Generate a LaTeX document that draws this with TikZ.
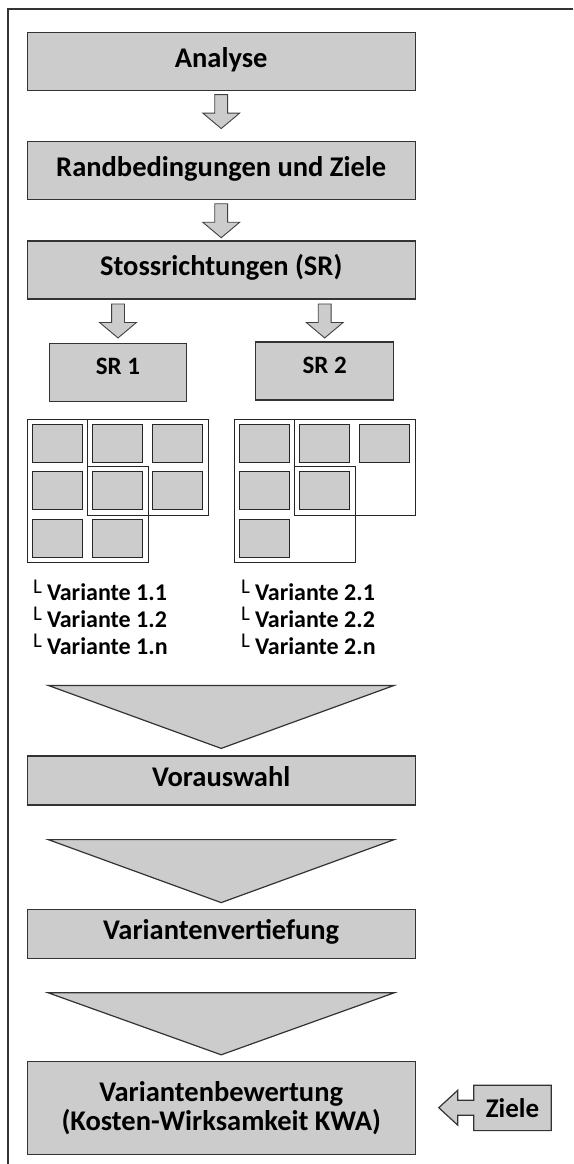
\documentclass[tikz,border=0pt]{standalone}
\usepackage{fontspec}
\setmainfont{Carlito}
\usetikzlibrary{positioning,shapes.arrows,backgrounds}

\tikzset{
  stage/.style={draw=black!80, fill=gray!40, line width=1.2pt, minimum width=388pt,
    minimum height=58pt, inner sep=0pt, align=center, text height=20pt, text depth=9pt,
    font=\bfseries\fontsize{28.5}{29}\selectfont},
  branch/.style={stage, minimum width=137pt, text height=16pt, text depth=12pt,
    font=\bfseries\fontsize{25}{25}\selectfont},
  blockarrow/.style={single arrow, draw=black!75, fill=gray!40, line width=0.9pt, rotate=-90,
    minimum height=34pt, inner xsep=0pt, inner ysep=6pt, single arrow head extend=12pt,
    single arrow tip angle=100, anchor=tail},
  cell/.style={draw=black!85, fill=gray!40, line width=1.3pt, minimum width=50pt,
    minimum height=38pt, inner sep=0pt},
  group/.style={draw=black!85, line width=0.8pt},
  funnel/.style={draw=black!80, fill=gray!40, line width=1.2pt},
  variant/.style={anchor=base west, inner sep=0pt, font=\bfseries\fontsize{24}{24}\selectfont}
}
\newcommand{\vmark}{\raisebox{7pt}{\mdseries\fontsize{21}{21}\selectfont L}\hspace{5pt}}

\begin{document}
\begin{tikzpicture}[x=1pt, y=-1pt]
   \useasboundingbox (0,0) rectangle (573,1164);
   \draw[line width=1.2pt, black!80] (8,1164) -- (8,9) -- (573,9);

   % main column
   \node[stage] (analyse) at (221.2,61.5) {Analyse};
   \node[stage, below=50pt of analyse] (rand) {Randbedingungen und Ziele};
   \node[stage, below=40pt of rand] (stoss) {Stossrichtungen (SR)};
   \node[branch] (sr1) at (118,372.5) {SR 1};
   \node[branch, minimum width=138pt] (sr2) at (324.7,371) {SR 2};
   \node[blockarrow] (ar1) at ([yshift=-3pt]analyse.south) {};
   \node[blockarrow] (ar2) at ([yshift=-3pt]rand.south) {};
   \node[blockarrow] (ar3) at ([yshift=-4pt]stoss.south -| sr1.north) {};
   \node[blockarrow] (ar4) at ([yshift=-4pt]stoss.south -| sr2.north) {};

   % variants SR 1
   \begin{scope}[node distance=47.5pt and 60pt, on grid]
   \node[cell] (a11) at (57.7,443.3) {};
   \node[cell] (a12) [right=of a11] {};
   \node[cell] (a13) [right=of a12] {};
   \node[cell] (a21) [below=of a11] {};
   \node[cell] (a22) [right=of a21] {};
   \node[cell] (a23) [right=of a22] {};
   \node[cell] (a31) [below=of a21] {};
   \node[cell] (a32) [right=of a31] {};
   % variants SR 2
   \node[cell] (b11) at (264.7,443.3) {};
   \node[cell] (b12) [right=of b11] {};
   \node[cell] (b13) [right=of b12] {};
   \node[cell] (b21) [below=of b11] {};
   \node[cell] (b22) [right=of b21] {};
   \node[cell] (b31) [below=of b21] {};
   \end{scope}
   \draw[group] ([shift={(-5,4.5)}]a31.south west) |- ([shift={(4,-4.5)}]a11.north east)
      |- ([shift={(5,-4.5)}]a22.north east) |- ([shift={(-5,4.5)}]a31.south west) -- cycle;
   \draw[group] ([shift={(-4.5,-4.5)}]a12.north west) rectangle ([shift={(5,4.5)}]a23.south east);
   \draw[group] ([shift={(-5,4.5)}]b31.south west) |- ([shift={(4,-4.5)}]b11.north east)
      |- ([shift={(5,-4.5)}]b22.north east) |- ([shift={(-5,4.5)}]b31.south west) -- cycle;
   \draw[group] ([shift={(-4.5,-4.5)}]b12.north west) rectangle ([shift={(5,4.5)}]b13.south east |- b22.south);

   \node[variant] (v11) at (33,600) {\vmark Variante 1.1};
   \node[variant] (v12) at (33,627) {\vmark Variante 1.2};
   \node[variant] (v13) at (33,654) {\vmark Variante 1.n};
   \node[variant] (v21) at (241,600) {\vmark Variante 2.1};
   \node[variant] (v22) at (241,627) {\vmark Variante 2.2};
   \node[variant] (v23) at (241,654) {\vmark Variante 2.n};

   % selection steps
   \node[stage, minimum height=49pt] (vor) at (221.2,780.5) {Vorauswahl};
   \node[stage, minimum height=49pt, below=103pt of vor] (vert) {Variantenvertiefung};
   \node[stage, minimum height=93pt, text height=, text depth=, below=102pt of vert] (bew)
      {Variantenbewertung\\(Kosten-Wirksamkeit KWA)};
   \draw[funnel] ([shift={(-173,-70)}]vor.north) -- ([shift={(173,-70)}]vor.north)
      -- ([shift={(0,-7)}]vor.north) -- cycle;
   \draw[funnel] ([shift={(-173,-69)}]vert.north) -- ([shift={(173,-69)}]vert.north)
      -- ([shift={(0,-6)}]vert.north) -- cycle;
   \draw[funnel] ([shift={(-173,-68)}]bew.north) -- ([shift={(173,-68)}]bew.north)
      -- ([shift={(0,-6)}]bew.north) -- cycle;

   \node[right=58pt of bew, minimum width=77pt, minimum height=45pt, inner sep=0pt,
      font=\bfseries\fontsize{27}{29}\selectfont] (ziele) {Ziele};
   \begin{scope}[on background layer]
   \draw[funnel] (ziele.north west) -- ++(0,15) -- ++(-16,0) -- ++(0,-10) -- ++(-19,17.5)
      -- ++(19,17.5) -- ++(0,-10) -- ++(16,0) -- (ziele.south west) -- (ziele.south east)
      -- (ziele.north east) -- cycle;
   \end{scope}
\end{tikzpicture}
\end{document}
